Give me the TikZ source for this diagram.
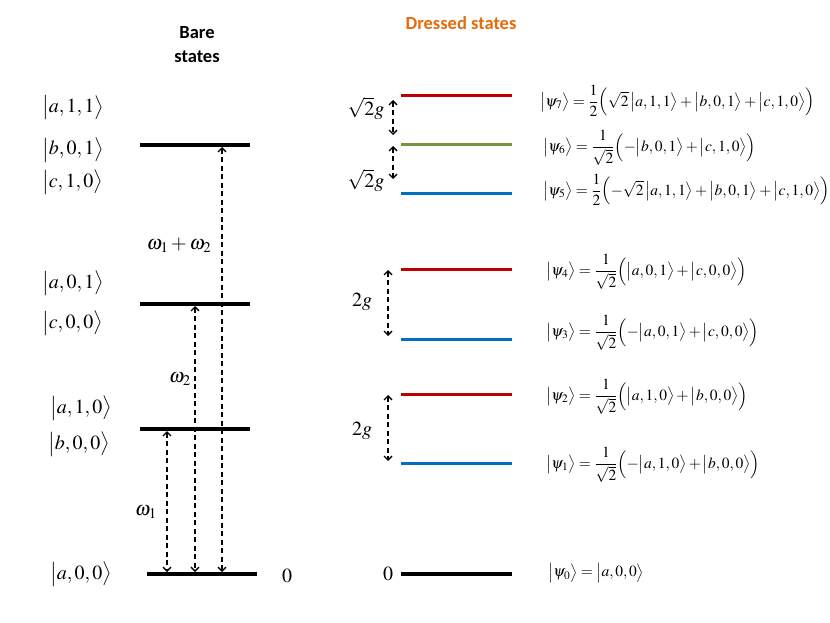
\documentclass[tikz,border=0pt]{standalone}
\usepackage{amsmath}
\usepackage{mathptmx}
\usepackage{fontspec}
\setmainfont{Liberation Serif}
\newfontfamily\calibri{Carlito}
\usetikzlibrary{arrows.meta}
\definecolor{dsorange}{RGB}{228,108,10}
\definecolor{dsred}{RGB}{192,0,0}
\definecolor{dsgreen}{RGB}{119,147,60}
\definecolor{dsblue}{RGB}{0,112,192}
\newcommand{\kt}[1]{\bigl|#1\bigr\rangle}
\tikzset{
  lvl/.style={line width=3.2pt},
  dlvl/.style={line width=3pt},
  trans/.style={line width=1.3pt, dash pattern=on 5pt off 3.5pt,
    {Straight Barb[length=4pt,width=8pt]}-{Straight Barb[length=4pt,width=8pt]}},
  bigket/.style={font=\fontsize{20}{22}\selectfont, inner sep=0pt, anchor=west},
  freq/.style={font=\fontsize{20}{22}\selectfont, inner sep=0pt},
  psi/.style={font=\fontsize{15.5}{17}\selectfont, inner sep=0pt, anchor=west},
  title/.style={font=\calibri\bfseries\fontsize{18.5}{20}\selectfont, inner sep=0pt}
}
\begin{document}
\begin{tikzpicture}[x=1pt,y=-1pt]
\useasboundingbox (0,0) rectangle (830,623);
% titles
\node[title] (tb1) at (197,33) {Bare};
\node[title] (tb2) at (197,57) {states};
\node[title, text=dsorange] (td) at (461,23) {Dressed states};
% bare levels
\coordinate (B3l) at (140,145); \coordinate (B3r) at (250,145);
\coordinate (B2l) at (140,304); \coordinate (B2r) at (250,304);
\coordinate (B1l) at (140,429); \coordinate (B1r) at (250,429);
\coordinate (B0l) at (147,574); \coordinate (B0r) at (257,574);
\draw[lvl] (B3l) -- (B3r);
\draw[lvl] (B2l) -- (B2r);
\draw[lvl] (B1l) -- (B1r);
\draw[lvl] (B0l) -- (B0r);
% transitions
\coordinate (t3a) at (222,147); \coordinate (t3b) at (222,572);
\coordinate (t2a) at (195,306); \coordinate (t2b) at (195,572);
\coordinate (t1a) at (167,431); \coordinate (t1b) at (167,572);
\draw[trans] (t3a) -- (t3b);
\draw[trans] (t2a) -- (t2b);
\draw[trans] (t1a) -- (t1b);
\node[freq] (w12) at (179,245) {$\omega_1+\omega_2$};
\node[freq] (w2) at (180,379) {$\omega_2$};
\node[freq] (w1) at (146,512) {$\omega_1$};
% bare labels
\node[bigket] (k111) at (42,108) {$\kt{a,1,1}$};
\node[bigket] (k011) at (42,150) {$\kt{b,0,1}$};
\node[bigket] (k110) at (42,182) {$\kt{c,1,0}$};
\node[bigket] (ka01) at (42,283) {$\kt{a,0,1}$};
\node[bigket] (kc00) at (42,323) {$\kt{c,0,0}$};
\node[bigket] (ka10) at (50,408) {$\kt{a,1,0}$};
\node[bigket] (kb00) at (48,444) {$\kt{b,0,0}$};
\node[bigket] (ka00) at (50,574) {$\kt{a,0,0}$};
\node[freq] (z1) at (287,576) {$0$};
% dressed levels
\coordinate (D7l) at (401,96);  \coordinate (D7r) at (512,96);
\coordinate (D6l) at (401,145); \coordinate (D6r) at (512,145);
\coordinate (D5l) at (401,193); \coordinate (D5r) at (512,193);
\coordinate (D4l) at (401,269); \coordinate (D4r) at (512,269);
\coordinate (D3l) at (401,339); \coordinate (D3r) at (512,339);
\coordinate (D2l) at (401,394); \coordinate (D2r) at (512,394);
\coordinate (D1l) at (401,463); \coordinate (D1r) at (512,463);
\coordinate (D0l) at (401,574); \coordinate (D0r) at (512,574);
\draw[dlvl, dsred] (D7l) -- (D7r);
\draw[dlvl, dsgreen] (D6l) -- (D6r);
\draw[dlvl, dsblue] (D5l) -- (D5r);
\draw[dlvl, dsred] (D4l) -- (D4r);
\draw[dlvl, dsblue] (D3l) -- (D3r);
\draw[dlvl, dsred] (D2l) -- (D2r);
\draw[dlvl, dsblue] (D1l) -- (D1r);
\draw[lvl] (D0l) -- (D0r);
% splittings
\coordinate (s7a) at (393,100); \coordinate (s7b) at (393,135);
\coordinate (s6a) at (393,146); \coordinate (s6b) at (393,179);
\coordinate (s4a) at (388,270); \coordinate (s4b) at (388,336);
\coordinate (s2a) at (388,395); \coordinate (s2b) at (388,461);
\draw[trans] (s7a) -- (s7b);
\draw[trans] (s6a) -- (s6b);
\draw[trans] (s4a) -- (s4b);
\draw[trans] (s2a) -- (s2b);
\node[freq] (g7) at (366,108) {$\sqrt{2}g$};
\node[freq] (g5) at (366,180) {$\sqrt{2}g$};
\node[freq] (g4) at (362,302) {$2g$};
\node[freq] (g2) at (362,431) {$2g$};
\node[freq] (z2) at (388,574) {$0$};
% dressed labels
\node[psi] (p7) at (540,101) {$\kt{\psi_7}=\dfrac{1}{2}\Bigl(\sqrt{2}\,\kt{a,1,1}+\kt{b,0,1}+\kt{c,1,0}\Bigr)$};
\node[psi] (p6) at (543,148) {$\kt{\psi_6}=\dfrac{1}{\sqrt{2}}\Bigl(-\kt{b,0,1}+\kt{c,1,0}\Bigr)$};
\node[psi] (p5) at (543,190) {$\kt{\psi_5}=\dfrac{1}{2}\Bigl(-\sqrt{2}\,\kt{a,1,1}+\kt{b,0,1}+\kt{c,1,0}\Bigr)$};
\node[psi] (p4) at (546,272) {$\kt{\psi_4}=\dfrac{1}{\sqrt{2}}\Bigl(\kt{a,0,1}+\kt{c,0,0}\Bigr)$};
\node[psi] (p3) at (546,333) {$\kt{\psi_3}=\dfrac{1}{\sqrt{2}}\Bigl(-\kt{a,0,1}+\kt{c,0,0}\Bigr)$};
\node[psi] (p2) at (546,397) {$\kt{\psi_2}=\dfrac{1}{\sqrt{2}}\Bigl(\kt{a,1,0}+\kt{b,0,0}\Bigr)$};
\node[psi] (p1) at (546,465) {$\kt{\psi_1}=\dfrac{1}{\sqrt{2}}\Bigl(-\kt{a,1,0}+\kt{b,0,0}\Bigr)$};
\node[psi] (p0) at (548,573) {$\kt{\psi_0}=\kt{a,0,0}$};
\end{tikzpicture}
\end{document}
